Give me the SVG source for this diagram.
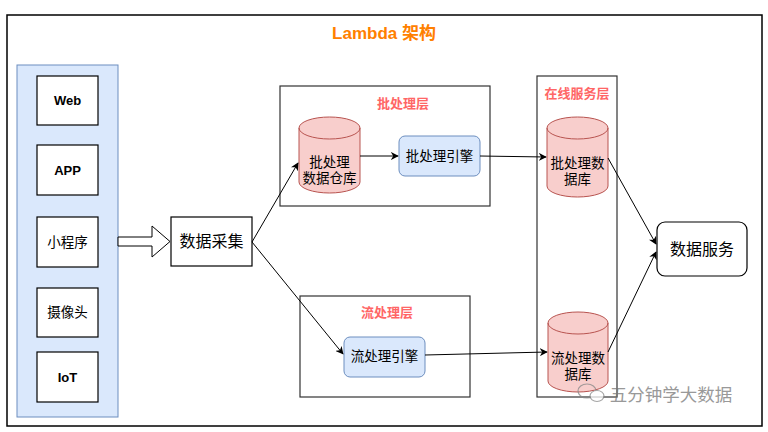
<svg xmlns="http://www.w3.org/2000/svg" width="768" height="432" viewBox="0 0 768 432">
<defs>
<style>
text{font-family:"Liberation Sans","Noto Sans CJK SC",sans-serif;text-anchor:middle;dominant-baseline:central;fill:#000}
.box{fill:#fff;stroke:#000;stroke-width:1.2}
.layer{fill:#fff;stroke:#333;stroke-width:1.2}
.src{font-size:13px;font-weight:bold}
.cn{font-size:13.5px}
.lt{font-size:13px;font-weight:bold;fill:#ff6666}
.cyl{fill:#f8cecc;stroke:#b85450;stroke-width:1}
.eng{fill:#dae8fc;stroke:#6c8ebf;stroke-width:1}
.t13{font-size:13.5px}
.t16{font-size:16px}
.edge{fill:none;stroke:#000;stroke-width:1;marker-end:url(#ah)}
</style>
<marker id="ah" viewBox="0 0 10 10" refX="9" refY="5" markerWidth="8" markerHeight="8" markerUnits="userSpaceOnUse" orient="auto">
<path d="M0,0 L10,5 L0,10 L3,5 Z" fill="#000"/>
</marker>
</defs>
<rect x="0" y="0" width="768" height="432" fill="#fff"/>
<rect x="7" y="15" width="755" height="411" fill="#fff" stroke="#000" stroke-width="1.5"/>
<text x="384" y="33" style="font-size:17px;font-weight:bold;fill:#ff8000">Lambda 架构</text>

<g id="sources">
<rect x="17" y="65" width="101" height="352" fill="#dae8fc" stroke="#6c8ebf" stroke-width="1"/>
</g>
<g id="web"><rect class="box" x="37" y="76" width="61" height="49"/><text class="src" x="67.5" y="100.5">Web</text></g>
<g id="app"><rect class="box" x="37" y="145" width="61" height="50"/><text class="src" x="67.5" y="170">APP</text></g>
<g id="miniprogram"><rect class="box" x="37" y="217" width="61" height="50"/><text class="cn" x="67.5" y="242">小程序</text></g>
<g id="camera"><rect class="box" x="37" y="288" width="61" height="49"/><text class="cn" x="67.5" y="312.5">摄像头</text></g>
<g id="iot"><rect class="box" x="37" y="352" width="61" height="50"/><text class="src" x="67.5" y="377">IoT</text></g>

<g id="collect"><rect class="box" x="171" y="217" width="81" height="49"/><text class="t16" x="211.5" y="241.5">数据采集</text></g>

<g id="batch-layer">
<rect class="layer" x="280" y="86" width="210" height="120"/>
<text class="lt" x="403" y="103">批处理层</text>
</g>
<g id="batch-store">
<path class="cyl" d="M299,128 a30.5,11 0 0 1 61,0 v54 a30.5,11 0 0 1 -61,0 Z"/>
<path d="M299,128 a30.5,11 0 0 0 61,0" fill="none" stroke="#b85450"/>
<text class="t13" x="329.5" y="162">批处理</text>
<text class="t13" x="329.5" y="178">数据仓库</text>
</g>
<g id="batch-engine"><rect class="eng" x="399" y="136" width="81" height="40" rx="6"/><text class="t13" x="439.5" y="156">批处理引擎</text></g>

<g id="stream-layer">
<rect class="layer" x="300" y="296" width="170" height="101"/>
<text class="lt" x="387" y="312">流处理层</text>
</g>
<g id="stream-engine"><rect class="eng" x="344" y="337" width="81" height="40" rx="6"/><text class="t13" x="384.5" y="356">流处理引擎</text></g>

<g id="serving-layer">
<rect class="layer" x="537" y="76" width="80" height="321"/>
<text class="lt" x="577" y="93">在线服务层</text>
</g>
<g id="batch-db">
<path class="cyl" d="M547,128 a30.5,11 0 0 1 61,0 v58 a30.5,11 0 0 1 -61,0 Z"/>
<path d="M547,128 a30.5,11 0 0 0 61,0" fill="none" stroke="#b85450"/>
<text class="t13" x="577.5" y="163">批处理数</text>
<text class="t13" x="577.5" y="179">据库</text>
</g>
<g id="stream-db">
<path class="cyl" d="M548,323 a30,11 0 0 1 60,0 v58 a30,11 0 0 1 -60,0 Z"/>
<path d="M548,323 a30,11 0 0 0 60,0" fill="none" stroke="#b85450"/>
<text class="t13" x="578" y="358">流处理数</text>
<text class="t13" x="578" y="374">据库</text>
</g>

<g id="data-service"><rect class="box" x="657" y="222" width="90" height="54" rx="8"/><text class="t16" x="702" y="249">数据服务</text></g>

<g id="connectors">
<path d="M118,237 H152 V226 L170,241.5 L152,257 V246 H118 Z" fill="#fff" stroke="#000" stroke-width="1"/>
<path class="edge" d="M252,242 L298,163"/>
<path class="edge" d="M252,242 L343,354"/>
<path class="edge" d="M360,156 L398,156"/>
<path class="edge" d="M480,156 L546,157"/>
<path class="edge" d="M425,355 L547,352"/>
<path class="edge" d="M608,158 L656,244"/>
<path class="edge" d="M608,352 L656,252"/>
</g>

<g id="watermark" opacity="0.75">
<ellipse cx="587" cy="391" rx="9" ry="7" fill="none" stroke="#888" stroke-width="1.2"/>
<ellipse cx="597" cy="396" rx="7" ry="5.5" fill="#fff" stroke="#888" stroke-width="1.2"/>
<text x="671" y="395" style="font-size:17.5px;fill:#777">五分钟学大数据</text>
</g>
</svg>
